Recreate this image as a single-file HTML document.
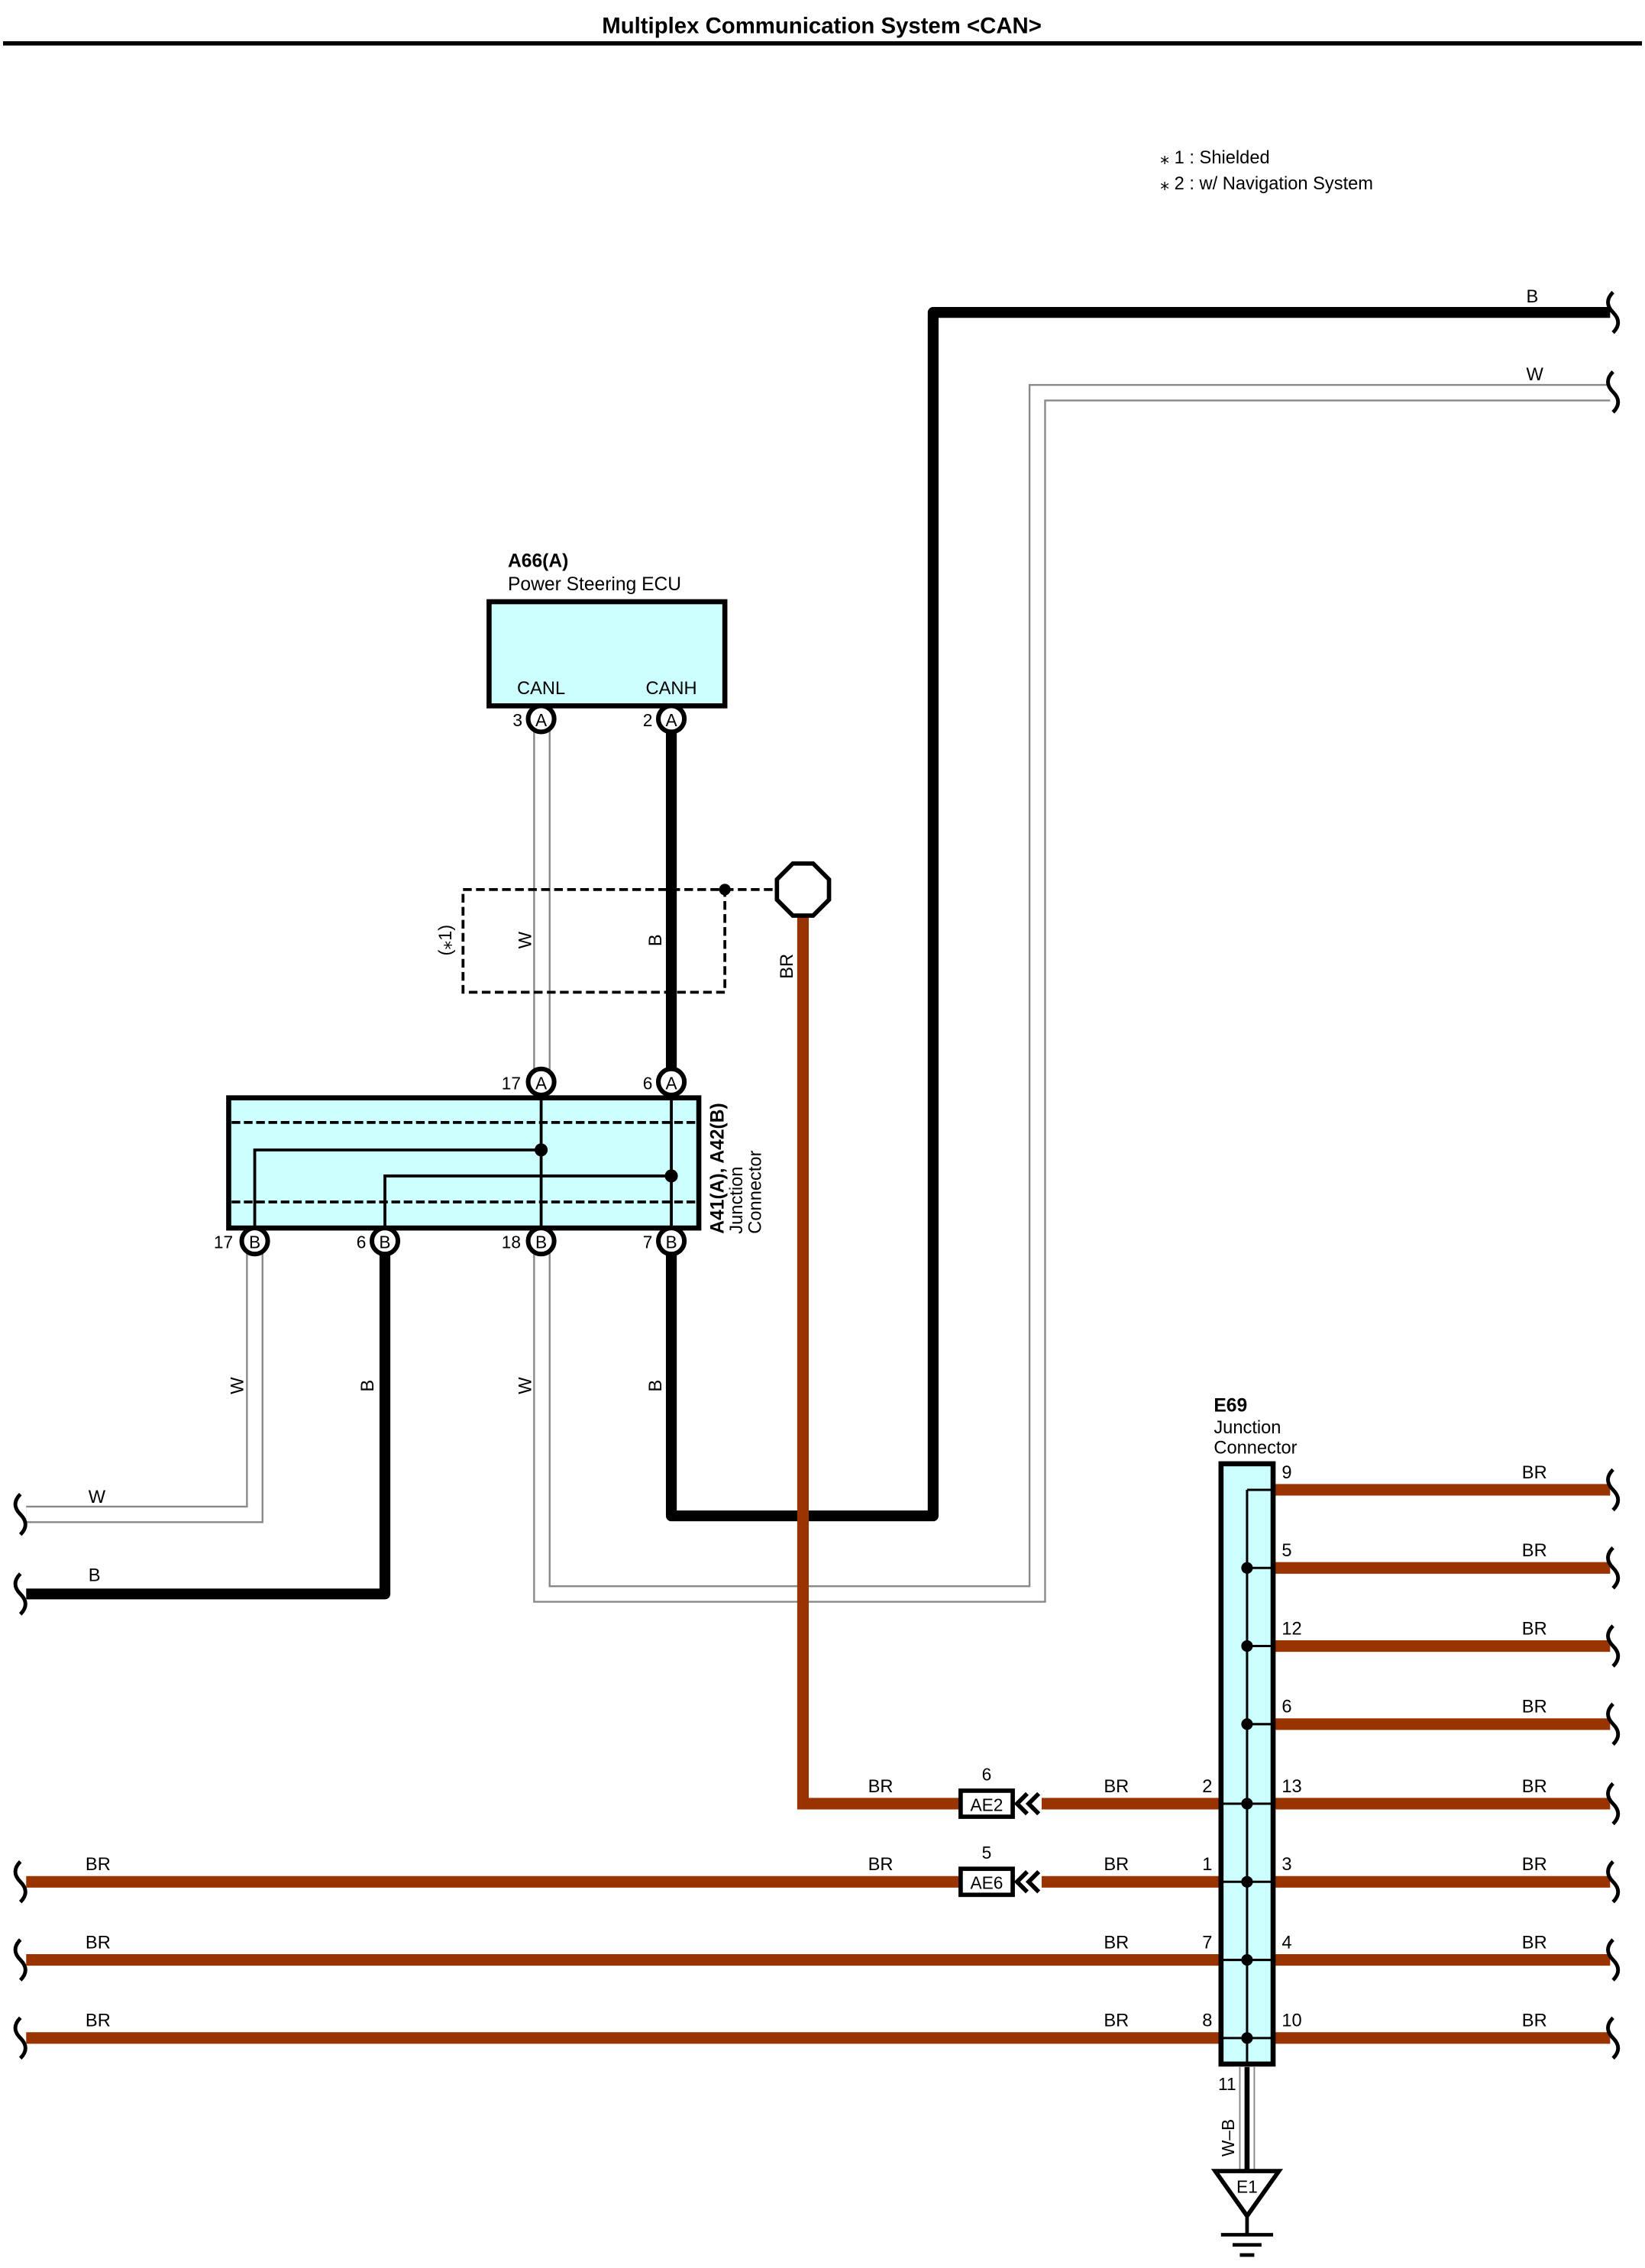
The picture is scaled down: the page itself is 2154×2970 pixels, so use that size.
<!DOCTYPE html>
<html><head><meta charset="utf-8"><style>
html,body{margin:0;padding:0;background:#fff}
svg{display:block}
text{font-family:"Liberation Sans",Arial,sans-serif;fill:#000}
</style></head><body>
<svg width="2154" height="2970" viewBox="0 0 1137 1568" xmlns="http://www.w3.org/2000/svg">
<defs>
<g id="brk"><path d="M0,-14 q-7,7 0,14 q7,7 0,14" fill="none" stroke="#000" stroke-width="2.6"/></g>
</defs>
<rect width="1137" height="1568" fill="#fff"/>
<text x="568" y="23" font-size="15.5" font-weight="bold" text-anchor="middle">Multiplex Communication System &lt;CAN&gt;</text>
<line x1="2" y1="30" x2="1135" y2="30" stroke="#000" stroke-width="3"/>
<text x="802" y="113" font-size="12.5">⁎ 1 : Shielded</text>
<text x="802" y="131" font-size="12.5">⁎ 2 : w/ Navigation System</text>

<g fill="none" stroke-linejoin="miter">
<path d="M1113,271.5 H717 V1102 H374.5 V858" stroke="#888" stroke-width="12"/>
<path d="M1113,271.5 H717 V1102 H374.5 V858" stroke="#fff" stroke-width="9.5"/>
<path d="M374.5,497 V748" stroke="#888" stroke-width="12"/>
<path d="M374.5,497 V748" stroke="#fff" stroke-width="9.5"/>
<path d="M176,858 V1047 H18" stroke="#888" stroke-width="12"/>
<path d="M176,858 V1047 H18" stroke="#fff" stroke-width="9.5"/>
</g>
<g fill="none" stroke="#000" stroke-width="7.5" stroke-linejoin="round">
<path d="M1113,216 H645 V1048 H464 V858"/>
<path d="M464,497 V748"/>
<path d="M266,858 V1102 H18"/>
</g>
<g fill="none" stroke="#993300" stroke-width="8">
<path d="M555,630 V1247 H663"/>
<path d="M720,1247 H843"/>
<path d="M18,1301 H663"/>
<path d="M720,1301 H843"/>
<path d="M18,1355 H843"/>
<path d="M18,1409 H843"/>
<path d="M880,1030 H1113"/><path d="M880,1084 H1113"/><path d="M880,1138 H1113"/><path d="M880,1192 H1113"/>
<path d="M880,1247 H1113"/><path d="M880,1301 H1113"/><path d="M880,1355 H1113"/><path d="M880,1409 H1113"/>
</g>
<use href="#brk" x="1115" y="216"/><use href="#brk" x="1115" y="271"/>
<use href="#brk" x="14" y="1047"/><use href="#brk" x="14" y="1102"/>
<use href="#brk" x="14" y="1301"/><use href="#brk" x="14" y="1355"/><use href="#brk" x="14" y="1409"/>
<use href="#brk" x="1115" y="1030"/><use href="#brk" x="1115" y="1084"/><use href="#brk" x="1115" y="1138"/><use href="#brk" x="1115" y="1192"/>
<use href="#brk" x="1115" y="1247"/><use href="#brk" x="1115" y="1301"/><use href="#brk" x="1115" y="1355"/><use href="#brk" x="1115" y="1409"/>

<g font-size="12.5">
<text x="1055" y="209">B</text><text x="1055" y="263">W</text>
<text x="61" y="1039">W</text><text x="61" y="1093">B</text>
<text x="59" y="1293">BR</text><text x="59" y="1347">BR</text><text x="59" y="1401">BR</text>
<text x="600" y="1239">BR</text><text x="600" y="1293">BR</text>
<text x="763" y="1239">BR</text><text x="763" y="1293">BR</text><text x="763" y="1347">BR</text><text x="763" y="1401">BR</text>
<text x="1052" y="1022">BR</text><text x="1052" y="1076">BR</text><text x="1052" y="1130">BR</text><text x="1052" y="1184">BR</text>
<text x="1052" y="1239">BR</text><text x="1052" y="1293">BR</text><text x="1052" y="1347">BR</text><text x="1052" y="1401">BR</text>
<text x="886" y="1022">9</text><text x="886" y="1076">5</text><text x="886" y="1130">12</text><text x="886" y="1184">6</text>
<text x="886" y="1239">13</text><text x="886" y="1293">3</text><text x="886" y="1347">4</text><text x="886" y="1401">10</text>
<text x="831" y="1239">2</text><text x="831" y="1293">1</text><text x="831" y="1347">7</text><text x="831" y="1401">8</text>
<text transform="translate(168,958) rotate(-90)" text-anchor="middle">W</text>
<text transform="translate(258,958) rotate(-90)" text-anchor="middle">B</text>
<text transform="translate(367,958) rotate(-90)" text-anchor="middle">W</text>
<text transform="translate(457,958) rotate(-90)" text-anchor="middle">B</text>
<text transform="translate(367,650) rotate(-90)" text-anchor="middle">W</text>
<text transform="translate(457,650) rotate(-90)" text-anchor="middle">B</text>
<text transform="translate(548,668) rotate(-90)" text-anchor="middle">BR</text>
<text transform="translate(312,650) rotate(-90)" text-anchor="middle">(⁎1)</text>
</g>

<text x="351" y="392" font-size="13" font-weight="bold">A66(A)</text>
<text x="351" y="408" font-size="13">Power Steering ECU</text>
<rect x="338" y="416" width="163" height="72" fill="#ccffff" stroke="#000" stroke-width="3.5"/>
<text x="374" y="480" font-size="12.5" text-anchor="middle">CANL</text>
<text x="464" y="480" font-size="12.5" text-anchor="middle">CANH</text>

<rect x="320" y="615" width="181" height="71" fill="none" stroke="#000" stroke-width="2" stroke-dasharray="6,3"/>
<line x1="501" y1="615" x2="537" y2="615" stroke="#000" stroke-width="2" stroke-dasharray="6,3"/>
<circle cx="501" cy="615" r="4"/>
<polygon points="548,597 562,597 573,608 573,622 562,633 548,633 537,622 537,608" fill="#fff" stroke="#000" stroke-width="3"/>

<rect x="158" y="759" width="325" height="90" fill="#ccffff" stroke="#000" stroke-width="3.5"/>
<g stroke="#000" stroke-width="2" fill="none">
<line x1="160" y1="776" x2="481" y2="776" stroke-dasharray="6,2.5"/>
<line x1="160" y1="831" x2="481" y2="831" stroke-dasharray="6,2.5"/>
<line x1="374" y1="759" x2="374" y2="849"/>
<line x1="464" y1="759" x2="464" y2="849"/>
<path d="M176,849 V795 H374"/>
<path d="M266,849 V813 H464"/>
</g>
<circle cx="374" cy="795" r="4.5"/><circle cx="464" cy="813" r="4.5"/>
<text transform="translate(500,853) rotate(-90)" font-size="13" font-weight="bold">A41(A), A42(B)</text>
<text transform="translate(513,853) rotate(-90)" font-size="12.5">Junction</text>
<text transform="translate(526,853) rotate(-90)" font-size="12.5">Connector</text>

<g font-size="12">
<g stroke="#000" stroke-width="3.2" fill="#fff">
<circle cx="374" cy="497" r="9"/><circle cx="464" cy="497" r="9"/>
<circle cx="374" cy="748" r="9"/><circle cx="464" cy="748" r="9"/>
<circle cx="176" cy="858" r="9"/><circle cx="266" cy="858" r="9"/><circle cx="374" cy="858" r="9"/><circle cx="464" cy="858" r="9"/>
</g>
<g text-anchor="middle">
<text x="374" y="502">A</text><text x="464" y="502">A</text>
<text x="374" y="753">A</text><text x="464" y="753">A</text>
<text x="176" y="863">B</text><text x="266" y="863">B</text><text x="374" y="863">B</text><text x="464" y="863">B</text>
</g>
<g text-anchor="end">
<text x="361" y="502">3</text><text x="451" y="502">2</text>
<text x="360" y="753">17</text><text x="451" y="753">6</text>
<text x="161" y="863">17</text><text x="253" y="863">6</text><text x="360" y="863">18</text><text x="451" y="863">7</text>
</g>
</g>

<g>
<rect x="664" y="1238" width="36" height="18" fill="#fff" stroke="#000" stroke-width="3"/>
<text x="682" y="1252" font-size="12" text-anchor="middle">AE2</text>
<text x="682" y="1231" font-size="12" text-anchor="middle">6</text>
<path d="M710,1240 L703,1247 L710,1254 M718,1240 L711,1247 L718,1254" fill="none" stroke="#000" stroke-width="3"/>
<rect x="664" y="1292" width="36" height="18" fill="#fff" stroke="#000" stroke-width="3"/>
<text x="682" y="1306" font-size="12" text-anchor="middle">AE6</text>
<text x="682" y="1285" font-size="12" text-anchor="middle">5</text>
<path d="M710,1294 L703,1301 L710,1308 M718,1294 L711,1301 L718,1308" fill="none" stroke="#000" stroke-width="3"/>
</g>

<text x="839" y="976" font-size="13" font-weight="bold">E69</text>
<text x="839" y="991" font-size="12.5">Junction</text>
<text x="839" y="1005" font-size="12.5">Connector</text>
<rect x="844" y="1012" width="36" height="415" fill="#ccffff" stroke="#000" stroke-width="3.5"/>
<g stroke="#000" stroke-width="1.6">
<line x1="862" y1="1030" x2="862" y2="1427"/>
<line x1="862" y1="1030" x2="880" y2="1030"/>
<line x1="862" y1="1084" x2="880" y2="1084"/><line x1="862" y1="1138" x2="880" y2="1138"/><line x1="862" y1="1192" x2="880" y2="1192"/>
<line x1="844" y1="1247" x2="880" y2="1247"/><line x1="844" y1="1301" x2="880" y2="1301"/><line x1="844" y1="1355" x2="880" y2="1355"/><line x1="844" y1="1409" x2="880" y2="1409"/>
</g>
<g>
<circle cx="862" cy="1084" r="4"/><circle cx="862" cy="1138" r="4"/><circle cx="862" cy="1192" r="4"/>
<circle cx="862" cy="1247" r="4"/><circle cx="862" cy="1301" r="4"/><circle cx="862" cy="1355" r="4"/><circle cx="862" cy="1409" r="4"/>
</g>
<line x1="862" y1="1429" x2="862" y2="1501" stroke="#888" stroke-width="11"/>
<line x1="862" y1="1429" x2="862" y2="1501" stroke="#fff" stroke-width="9"/>
<line x1="862" y1="1429" x2="862" y2="1501" stroke="#000" stroke-width="3.5"/>
<text x="842" y="1445" font-size="12">11</text>
<text transform="translate(853,1478) rotate(-90)" font-size="12" text-anchor="middle">W–B</text>
<polygon points="840,1501 884,1501 862,1532" fill="#fff" stroke="#000" stroke-width="3"/>
<text x="862" y="1516" font-size="12" text-anchor="middle">E1</text>
<g stroke="#000" stroke-width="2.5">
<line x1="862" y1="1532" x2="862" y2="1545"/>
<line x1="844" y1="1545" x2="880" y2="1545"/>
<line x1="852" y1="1552" x2="872" y2="1552"/>
<line x1="857" y1="1559" x2="867" y2="1559"/>
</g>
</svg>
</body></html>
